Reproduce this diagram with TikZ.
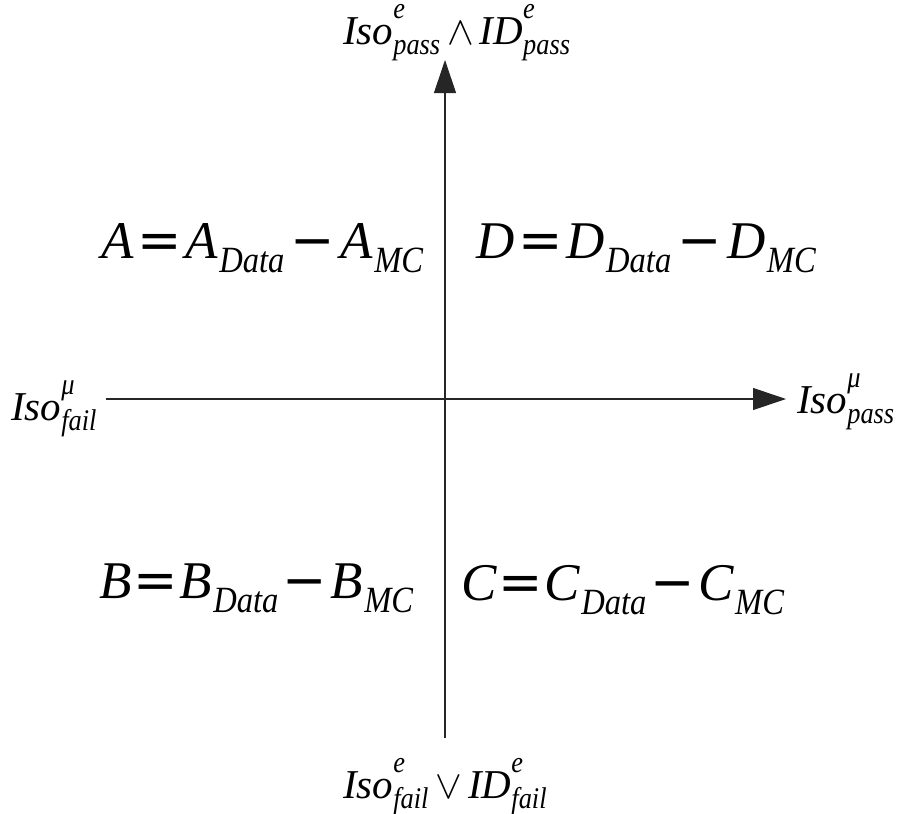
\documentclass[tikz,border=0pt]{standalone}
\usepackage{fontspec}
\setmainfont{Liberation Serif}
\newfontfamily\subf{Liberation Serif}[FakeStretch=0.88]
\newfontfamily\symf{DejaVu Sans}
\usetikzlibrary{arrows.meta}
\newcommand\axS[3]{#1\rlap{\raisebox{26pt}{\subf\fontsize{30}{30}\selectfont #2}}\raisebox{-10pt}{\subf\fontsize{30}{30}\selectfont #3}}
\newcommand\qS[2]{#1\hspace{1pt}\raisebox{-14pt}{\subf\fontsize{37}{37}\selectfont #2}}
\newcommand\qOp[3]{{\upshape\symf\hspace{#2}#1\hspace{#3}}}
\newcommand\logop[1]{{\upshape\hspace{7pt}{\fontsize{10}{12}\selectfont\scalebox{4}{$#1$}}\hspace{6pt}}}
\tikzset{
  axis/.style={line width=1.1pt, draw=black!85, -{Triangle[length=33pt,width=22pt]}},
  axlabel/.style={anchor=base west, inner sep=0pt, font=\fontsize{41}{41}\selectfont\itshape},
  qlabel/.style={anchor=base west, inner sep=0pt, font=\fontsize{53}{53}\selectfont\itshape}
}
\begin{document}
\begin{tikzpicture}[x=1pt,y=-1pt]
\useasboundingbox (0,0) rectangle (900,814);
\coordinate (xl) at (106,399);
\coordinate (xr) at (786,399);
\coordinate (yb) at (445,738);
\coordinate (yt) at (445,60);
\draw[axis] (xl) -- (xr);
\draw[axis] (yb) -- (yt);
\node[axlabel] (top) at (343,44) {\axS{Iso}{e}{pass}\logop{\wedge}\axS{ID}{e}{pass}};
\node[axlabel] (bot) at (343,798) {\axS{Iso}{e}{fail}\logop{\vee}\axS{ID}{e}{fail}};
\node[axlabel] (left) at (11,420) {\axS{Iso}{μ}{fail}};
\node[axlabel] (right) at (797,413) {\axS{Iso}{μ}{pass}};
\node[qlabel] (qa) at (101,258) {A\qOp{=}{4pt}{4pt}\qS{A}{Data}\qOp{−}{6pt}{6pt}\qS{A}{MC}};
\node[qlabel] (qd) at (476,258) {D\qOp{=}{4pt}{4pt}\qS{D}{Data}\qOp{−}{6pt}{6pt}\qS{D}{MC}};
\node[qlabel] (qb) at (99,598) {B\qOp{=}{2pt}{2pt}\qS{B}{Data}\qOp{−}{4pt}{4pt}\qS{B}{MC}};
\node[qlabel] (qc) at (461,600) {C\qOp{=}{2pt}{2pt}\qS{C}{Data}\qOp{−}{4pt}{4pt}\qS{C}{MC}};
\end{tikzpicture}
\end{document}
